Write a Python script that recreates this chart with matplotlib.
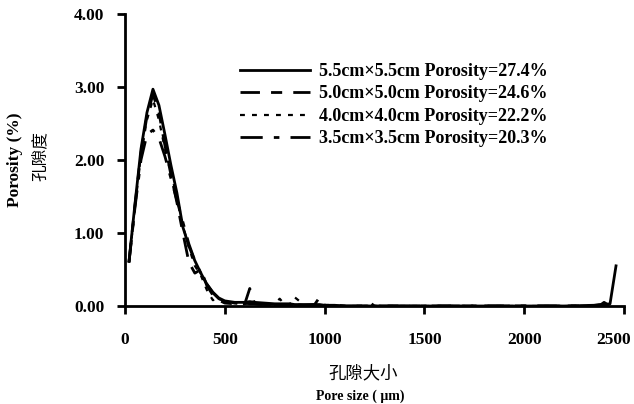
import numpy as np
import matplotlib
matplotlib.use("Agg")
import matplotlib.pyplot as plt
from matplotlib.transforms import ScaledTranslation

plt.rcParams['font.family'] = ['Liberation Serif', 'Noto Sans CJK SC', 'DejaVu Sans']

# pore size (um)
pore_size = [20, 50, 80, 110, 140, 170, 200, 230, 260, 290, 320, 350, 380, 410, 440,
             470, 500, 550, 600, 625, 650, 700, 750, 775, 800, 825, 850, 900, 950,
             975, 1000, 1050, 1100, 1200, 1225, 1250, 1400, 1800, 1900, 2000, 2200,
             2350, 2375, 2400, 2430, 2460]

# porosity (%) for each sample
por_55 = [0.61, 1.40, 2.15, 2.65, 2.97, 2.75, 2.35, 1.93, 1.55, 1.08, 0.82, 0.62, 0.45, 0.30, 0.19,
          0.11, 0.07, 0.05, 0.05, 0.06, 0.05, 0.04, 0.03, 0.03, 0.03, 0.03, 0.02, 0.02, 0.02,
          0.02, 0.01, 0.01, 0.00, 0.00, 0.00, 0.00, 0.00, 0.00, 0.00, 0.00, 0.00,
          0.01, 0.02, 0.02, 0.03, 0.55]
por_50 = [0.60, 1.38, 2.10, 2.60, 2.90, 2.65, 2.20, 1.80, 1.42, 1.00, 0.60, 0.45, 0.50, 0.28, 0.15,
          0.08, 0.04, 0.03, 0.03, 0.24, 0.03, 0.02, 0.02, 0.02, 0.01, 0.01, 0.01, 0.01, 0.01,
          0.01, 0.00, 0.00, 0.00, 0.00, 0.00, 0.00, 0.00, 0.00, 0.00, 0.00, 0.00,
          0.00, 0.00, 0.00, 0.00, 0.00]
por_40 = [0.60, 1.35, 2.08, 2.55, 2.83, 2.55, 2.15, 1.82, 1.50, 1.10, 0.80, 0.55, 0.42, 0.22, 0.08,
          0.10, 0.06, 0.04, 0.03, 0.03, 0.03, 0.02, 0.02, 0.10, 0.02, 0.02, 0.12, 0.01, 0.01,
          0.01, 0.01, 0.00, 0.00, 0.00, 0.00, 0.00, 0.00, 0.00, 0.00, 0.00, 0.00,
          0.00, 0.00, 0.00, 0.00, 0.00]
por_35 = [0.60, 1.35, 2.00, 2.35, 2.41, 2.30, 2.05, 1.75, 1.45, 1.15, 0.85, 0.62, 0.45, 0.30, 0.18,
          0.10, 0.06, 0.04, 0.03, 0.03, 0.03, 0.02, 0.02, 0.02, 0.02, 0.02, 0.02, 0.01, 0.02,
          0.12, 0.01, 0.01, 0.00, 0.00, 0.05, 0.00, 0.00, 0.00, 0.00, 0.00, 0.00,
          0.00, 0.00, 0.05, 0.00, 0.00]

labels = ["5.5cm×5.5cm Porosity=27.4%",
          "5.0cm×5.0cm Porosity=24.6%",
          "4.0cm×4.0cm Porosity=22.2%",
          "3.5cm×3.5cm Porosity=20.3%"]

fig = plt.figure(figsize=(6.34, 4.04), dpi=100)
ax = fig.add_axes([125/634, 1-306/404, 499/634, 292/404])

ax.plot(pore_size, por_55, color='black', lw=2.0, ls='-', label=labels[0])
ax.plot(pore_size, por_50, color='black', lw=2.0, ls=(0, (7, 4, 4, 4)), label=labels[1])
ax.plot(pore_size, por_40, color='black', lw=1.6, ls=(0, (2.2, 3.2)), label=labels[2])
ax.plot(pore_size, por_35, color='black', lw=2.0, ls=(0, (8, 4, 2, 4)), label=labels[3])

ax.set_xlim(0, 2500)
ax.set_ylim(0, 4)
ax.set_xticks([0, 500, 1000, 1500, 2000, 2500])
ax.set_yticks([0, 1, 2, 3, 4])
ax.set_yticklabels(["0.00", "1.00", "2.00", "3.00", "4.00"])
ax.spines['top'].set_visible(False)
ax.spines['right'].set_visible(False)
ax.spines['left'].set_linewidth(2.0)
ax.spines['bottom'].set_linewidth(2.0)
ax.tick_params(direction='out', length=6, width=2.0, labelsize=12.5)
ax.tick_params(axis='x', pad=13)
ax.tick_params(axis='y', pad=9)
for t in ax.get_xticklabels() + ax.get_yticklabels():
    t.set_fontweight('bold')
last = ax.get_xticklabels()[-1]
last.set_transform(last.get_transform() + ScaledTranslation(-0.1, 0, fig.dpi_scale_trans))

leg = ax.legend(loc='upper left', bbox_to_anchor=(240/634, 1-63/404),
                bbox_transform=fig.transFigure, frameon=False, borderpad=0,
                borderaxespad=0, handlelength=3.9, handletextpad=0.45, labelspacing=0.3,
                prop={'family': 'Liberation Serif', 'weight': 'bold', 'size': 13})

fig.text(15/634, 1-160/404, "Porosity (%)", rotation=90, ha='center', va='center',
         fontsize=12.5, fontweight='bold')
fig.text(40/634, 1-156/404, "孔隙度", rotation=90, ha='center', va='center',
         fontsize=12, family=['Noto Sans CJK SC', 'DejaVu Sans'])
fig.text(363/634, 1-373/404, "孔隙大小", ha='center', va='center',
         fontsize=12.5, family=['Noto Sans CJK SC', 'DejaVu Sans'])
fig.text(360/634, 1-396/404, "Pore size ( μm)", ha='center', va='center',
         fontsize=10, fontweight='bold')

fig.savefig("out.png", dpi=100)
